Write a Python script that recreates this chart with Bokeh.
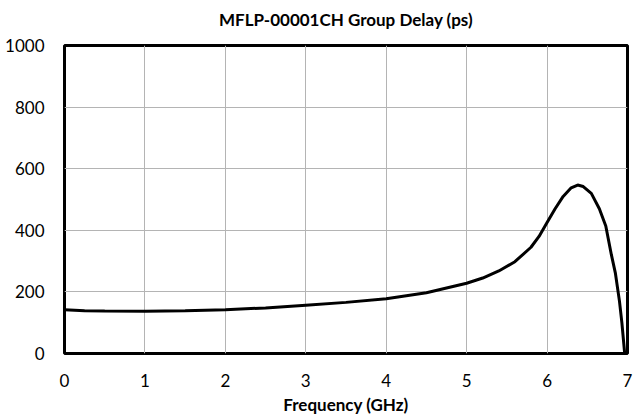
from bokeh.plotting import figure
from bokeh.embed import file_html
from bokeh.resources import INLINE
from bokeh.models import FixedTicker, Range1d, Title

freq_ghz = [0, 0.25, 0.5, 1, 1.5, 2, 2.5, 3, 3.5, 4, 4.5, 5, 5.2, 5.4, 5.6, 5.8,
            5.9, 6.0, 6.1, 6.2, 6.3, 6.38, 6.45, 6.55, 6.65, 6.73, 6.8, 6.85,
            6.9, 6.93, 6.965]
delay_ps = [142, 139, 138, 137, 139, 142, 148, 157, 166, 178, 197, 228, 245, 268,
            298, 345, 380, 425, 470, 510, 538, 547, 542, 520, 470, 414, 320, 260,
            170, 100, 0]
x_ticks = [0, 1, 2, 3, 4, 5, 6, 7]
y_ticks = [0, 200, 400, 600, 800, 1000]

FONT = "Lato"

p = figure(width=634, height=417, output_backend="svg", toolbar_location=None,
           x_range=Range1d(0, 7), y_range=Range1d(0, 1000),
           min_border_left=64, min_border_right=7, min_border_top=45,
           min_border_bottom=10)

p.title.text = "MFLP-00001CH Group Delay (ps)"
p.title.align = "center"
p.title.text_font = FONT
p.title.text_font_size = "17px"
p.title.text_font_style = "bold"
p.title.text_color = "#000000"
p.title.offset = 0

# empty spacer between the title and the plot frame
p.add_layout(Title(text=" ", text_font_size="8px", standoff=0), "above")

p.line(freq_ghz, delay_ps, line_color="black", line_width=3)

p.outline_line_color = "black"
p.outline_line_width = 3

for ax in (p.xaxis[0], p.yaxis[0]):
    ax.axis_line_color = None
    ax.major_tick_line_color = None
    ax.minor_tick_line_color = None
    ax.major_label_text_font = FONT
    ax.major_label_text_font_size = "17px"
    ax.major_label_text_color = "#000000"

p.xaxis.ticker = FixedTicker(ticks=x_ticks)
p.yaxis.ticker = FixedTicker(ticks=y_ticks)
p.xaxis.major_label_standoff = 14
p.yaxis.major_label_standoff = 14
p.xaxis.axis_label = "Frequency (GHz)"
p.xaxis.axis_label_text_font = FONT
p.xaxis.axis_label_text_font_size = "17px"
p.xaxis.axis_label_text_font_style = "bold"
p.xaxis.axis_label_text_color = "#000000"
p.xaxis.axis_label_standoff = 4

p.xgrid.ticker = FixedTicker(ticks=x_ticks)
p.ygrid.ticker = FixedTicker(ticks=y_ticks)
p.grid.grid_line_color = "#b4b4b4"
p.grid.grid_line_width = 1

open("out.html", "w").write(file_html(p, INLINE))
